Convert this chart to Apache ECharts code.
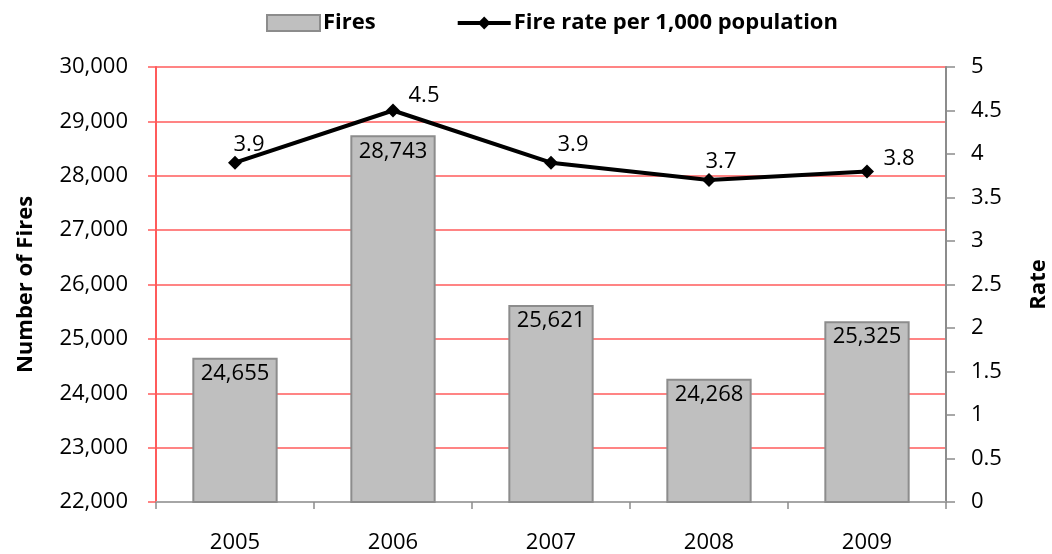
<!DOCTYPE html>
<html>
<head>
<meta charset="utf-8">
<script src="https://cdn.jsdelivr.net/npm/echarts@6/dist/echarts.min.js"></script>
<style>
  html, body { margin: 0; padding: 0; background: #fff; }
  #main { width: 1052px; height: 554px; }
</style>
</head>
<body>
<div id="main"></div>
<script>
// chart data
var years = ["2005", "2006", "2007", "2008", "2009"];
var fires = [24655, 28743, 25621, 24268, 25325];
var fireRate = [3.9, 4.5, 3.9, 3.7, 3.8];
// where each rate label sits relative to its point (px)
var rateLabelOffsets = [[14, -20], [31, -17], [22, -20], [12, -20], [32, -15]];

var FONT = "Open Sans";
var FS = 22;
var RED = "#FF5B5B";
var chart = echarts.init(document.getElementById("main"));

function fmt(v) { return v.toLocaleString("en-US"); }

chart.setOption({
  animation: false,
  textStyle: { fontFamily: FONT },
  legend: {
    top: 7,
    left: 261,
    itemGap: 80,
    itemWidth: 53,
    itemHeight: 16,
    textStyle: { fontFamily: FONT, fontSize: FS, fontWeight: "bold", color: "#000", padding: [0, 0, 0, -2] },
    data: [
      { name: "Fires", icon: "rect", itemStyle: { color: "#BFBFBF", borderColor: "#8C8C8C", borderWidth: 2 } },
      { name: "Fire rate per 1,000 population", lineStyle: { width: 4, color: "#000" } }
    ]
  },
  grid: { left: 156, right: 106, top: 67, bottom: 52, outerBoundsMode: "none" },
  xAxis: {
    type: "category",
    data: years,
    axisLine: { lineStyle: { color: "#A6A6A6", width: 2 } },
    axisTick: { show: true, length: 7, lineStyle: { color: "#8C8C8C", width: 1.5 } },
    axisLabel: { fontSize: FS, color: "#000", margin: 30, fontFamily: FONT }
  },
  yAxis: [
    {
      type: "value",
      name: "Number of Fires",
      nameLocation: "middle",
      nameGap: 119,
      nameTextStyle: { fontSize: FS, fontWeight: "bold", color: "#000", fontFamily: FONT },
      min: 22000,
      max: 30000,
      interval: 1000,
      axisLine: { show: true, lineStyle: { color: RED, width: 2 } },
      axisTick: { show: true, length: 8, lineStyle: { color: RED, width: 1.5 } },
      axisLabel: { fontSize: FS, color: "#000", margin: 28, fontFamily: FONT, formatter: fmt },
      splitLine: { show: true, lineStyle: { color: RED, width: 1.5 } }
    },
    {
      type: "value",
      name: "Rate",
      nameLocation: "middle",
      nameGap: 82,
      nameTextStyle: { fontSize: FS, fontWeight: "bold", color: "#000", fontFamily: FONT },
      min: 0,
      max: 5,
      interval: 0.5,
      axisLine: { show: true, lineStyle: { color: "#8C8C8C", width: 2 } },
      axisTick: { show: true, length: 9, lineStyle: { color: "#8C8C8C", width: 1.5 } },
      axisLabel: { fontSize: FS, color: "#000", margin: 25, fontFamily: FONT },
      splitLine: { show: false }
    }
  ],
  series: [
    {
      name: "Fires",
      type: "bar",
      data: fires,
      barWidth: "54%",
      itemStyle: { color: "#BFBFBF", borderColor: "#8C8C8C", borderWidth: 2 },
      label: {
        show: true,
        position: "insideTop",
        distance: 5,
        fontSize: FS,
        color: "#000",
        fontFamily: FONT,
        formatter: function (p) { return fmt(p.value); }
      }
    },
    {
      name: "Fire rate per 1,000 population",
      type: "line",
      yAxisIndex: 1,
      data: fireRate.map(function (v, i) {
        var o = rateLabelOffsets[i];
        return { value: v, label: { offset: [o[0], o[1] + 20] } };
      }),
      symbol: "diamond",
      symbolSize: 14,
      lineStyle: { color: "#000", width: 4 },
      itemStyle: { color: "#000" },
      label: {
        show: true,
        position: "top",
        distance: 0,
        fontSize: FS,
        color: "#000",
        fontFamily: FONT
      },
      z: 5
    }
  ]
});
</script>
</body>
</html>
